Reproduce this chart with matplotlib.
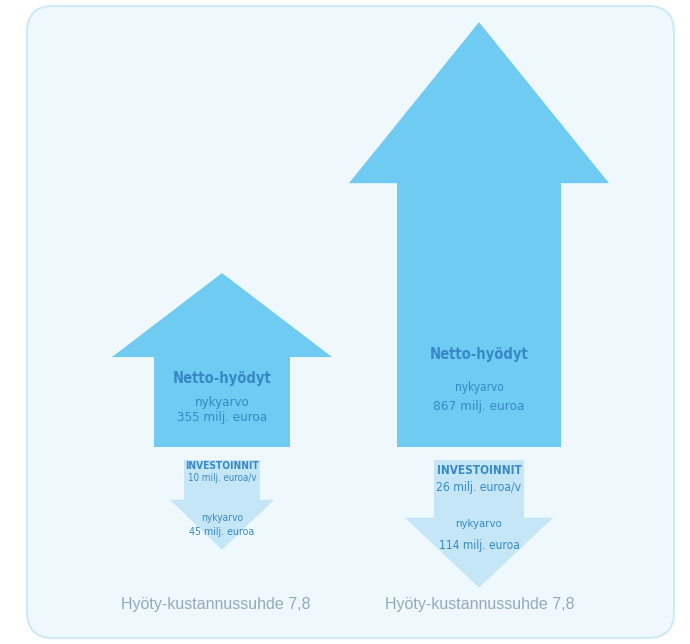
import matplotlib.pyplot as plt
from matplotlib.patches import Polygon, FancyBboxPatch

# data (milj. euroa)
labels = ["Netto-hyödyt", "Netto-hyödyt"]
benefits = [355, 867]          # nykyarvo, netto-hyödyt
invest_year = [10, 26]         # investoinnit milj. euroa/v
invest_pv = [45, 114]          # investointien nykyarvo
ratio = ["7,8", "7,8"]

# arrow layout in pixel space
centers = [222, 479]
note_x = [216, 480]
up_base = 447
up_scale = 0.49                 # px per milj. euroa
up_shape = [(110, 68, 84), (130, 82, 161)]    # head half width, shaft half width, head height
down_top = 460
down_shape = [(52, 38, 50), (74, 45, 70)]

UP_COL = "#6fcbf1"
DOWN_COL = "#c5e6f7"
TXT_COL = "#3689c6"
NOTE_COL = "#93aabb"
FONT = ["DejaVu Sans"]

fig = plt.figure(figsize=(6.9, 6.44), dpi=100)
ax = fig.add_axes([0, 0, 1, 1])
ax.set_xlim(0, 690)
ax.set_ylim(644, 0)
ax.axis("off")

box = FancyBboxPatch((27, 6), 647, 632, boxstyle="round,pad=0,rounding_size=26",
                     facecolor="#eff8fd", edgecolor="#cfeaf6", linewidth=1.5)
ax.add_patch(box)


def up_arrow(cx, value, shape):
    hw, sw, hh = shape
    top = up_base - value * up_scale
    neck = top + hh
    pts = [(cx - sw, up_base), (cx - sw, neck), (cx - hw, neck), (cx, top),
           (cx + hw, neck), (cx + sw, neck), (cx + sw, up_base)]
    ax.add_patch(Polygon(pts, closed=True, facecolor=UP_COL, edgecolor="none"))


def down_arrow(cx, value, shape):
    hw, sw, hh = shape
    length = 65 + 0.55 * value
    tip = down_top + length
    neck = tip - hh
    pts = [(cx - sw, down_top), (cx - sw, neck), (cx - hw, neck), (cx, tip),
           (cx + hw, neck), (cx + sw, neck), (cx + sw, down_top)]
    ax.add_patch(Polygon(pts, closed=True, facecolor=DOWN_COL, edgecolor="none"))


def txt(x, y, s, size, weight="normal", color=TXT_COL):
    ax.text(x, y, s, ha="center", va="center", color=color, fontsize=size,
            family=FONT, fontweight=weight, fontstretch="condensed")


for i in range(2):
    cx = centers[i]
    up_arrow(cx, benefits[i], up_shape[i])
    down_arrow(cx, invest_pv[i], down_shape[i])

    if i == 0:
        ty, ny, vy = 378, 402, 417
        iy, iy2, py, py2 = 466, 478, 518, 532
        nyk, val = 9.5, 9.5
        inv, invv, nyk2, val2 = 7.3, 7.0, 7.3, 7.6
    else:
        ty, ny, vy = 354, 387, 406
        iy, iy2, py, py2 = 470, 487, 524, 545
        nyk, val = 8.5, 9.7
        inv, invv, nyk2, val2 = 8.5, 8.7, 8.2, 8.6

    txt(cx, ty, labels[i], 10.5, "bold")
    txt(cx, ny, "nykyarvo", nyk)
    txt(cx, vy, f"{benefits[i]} milj. euroa", val)

    txt(cx, iy, "INVESTOINNIT", inv, "bold")
    txt(cx, iy2, f"{invest_year[i]} milj. euroa/v", invv)
    txt(cx, py, "nykyarvo", nyk2)
    txt(cx, py2, f"{invest_pv[i]} milj. euroa", val2)

    ax.text(note_x[i], 604, f"Hyöty-kustannussuhde {ratio[i]}",
            ha="center", va="center", color=NOTE_COL, fontsize=11.5,
            family=["Liberation Sans", "DejaVu Sans"])

fig.savefig("out.png", dpi=100, facecolor="white")
